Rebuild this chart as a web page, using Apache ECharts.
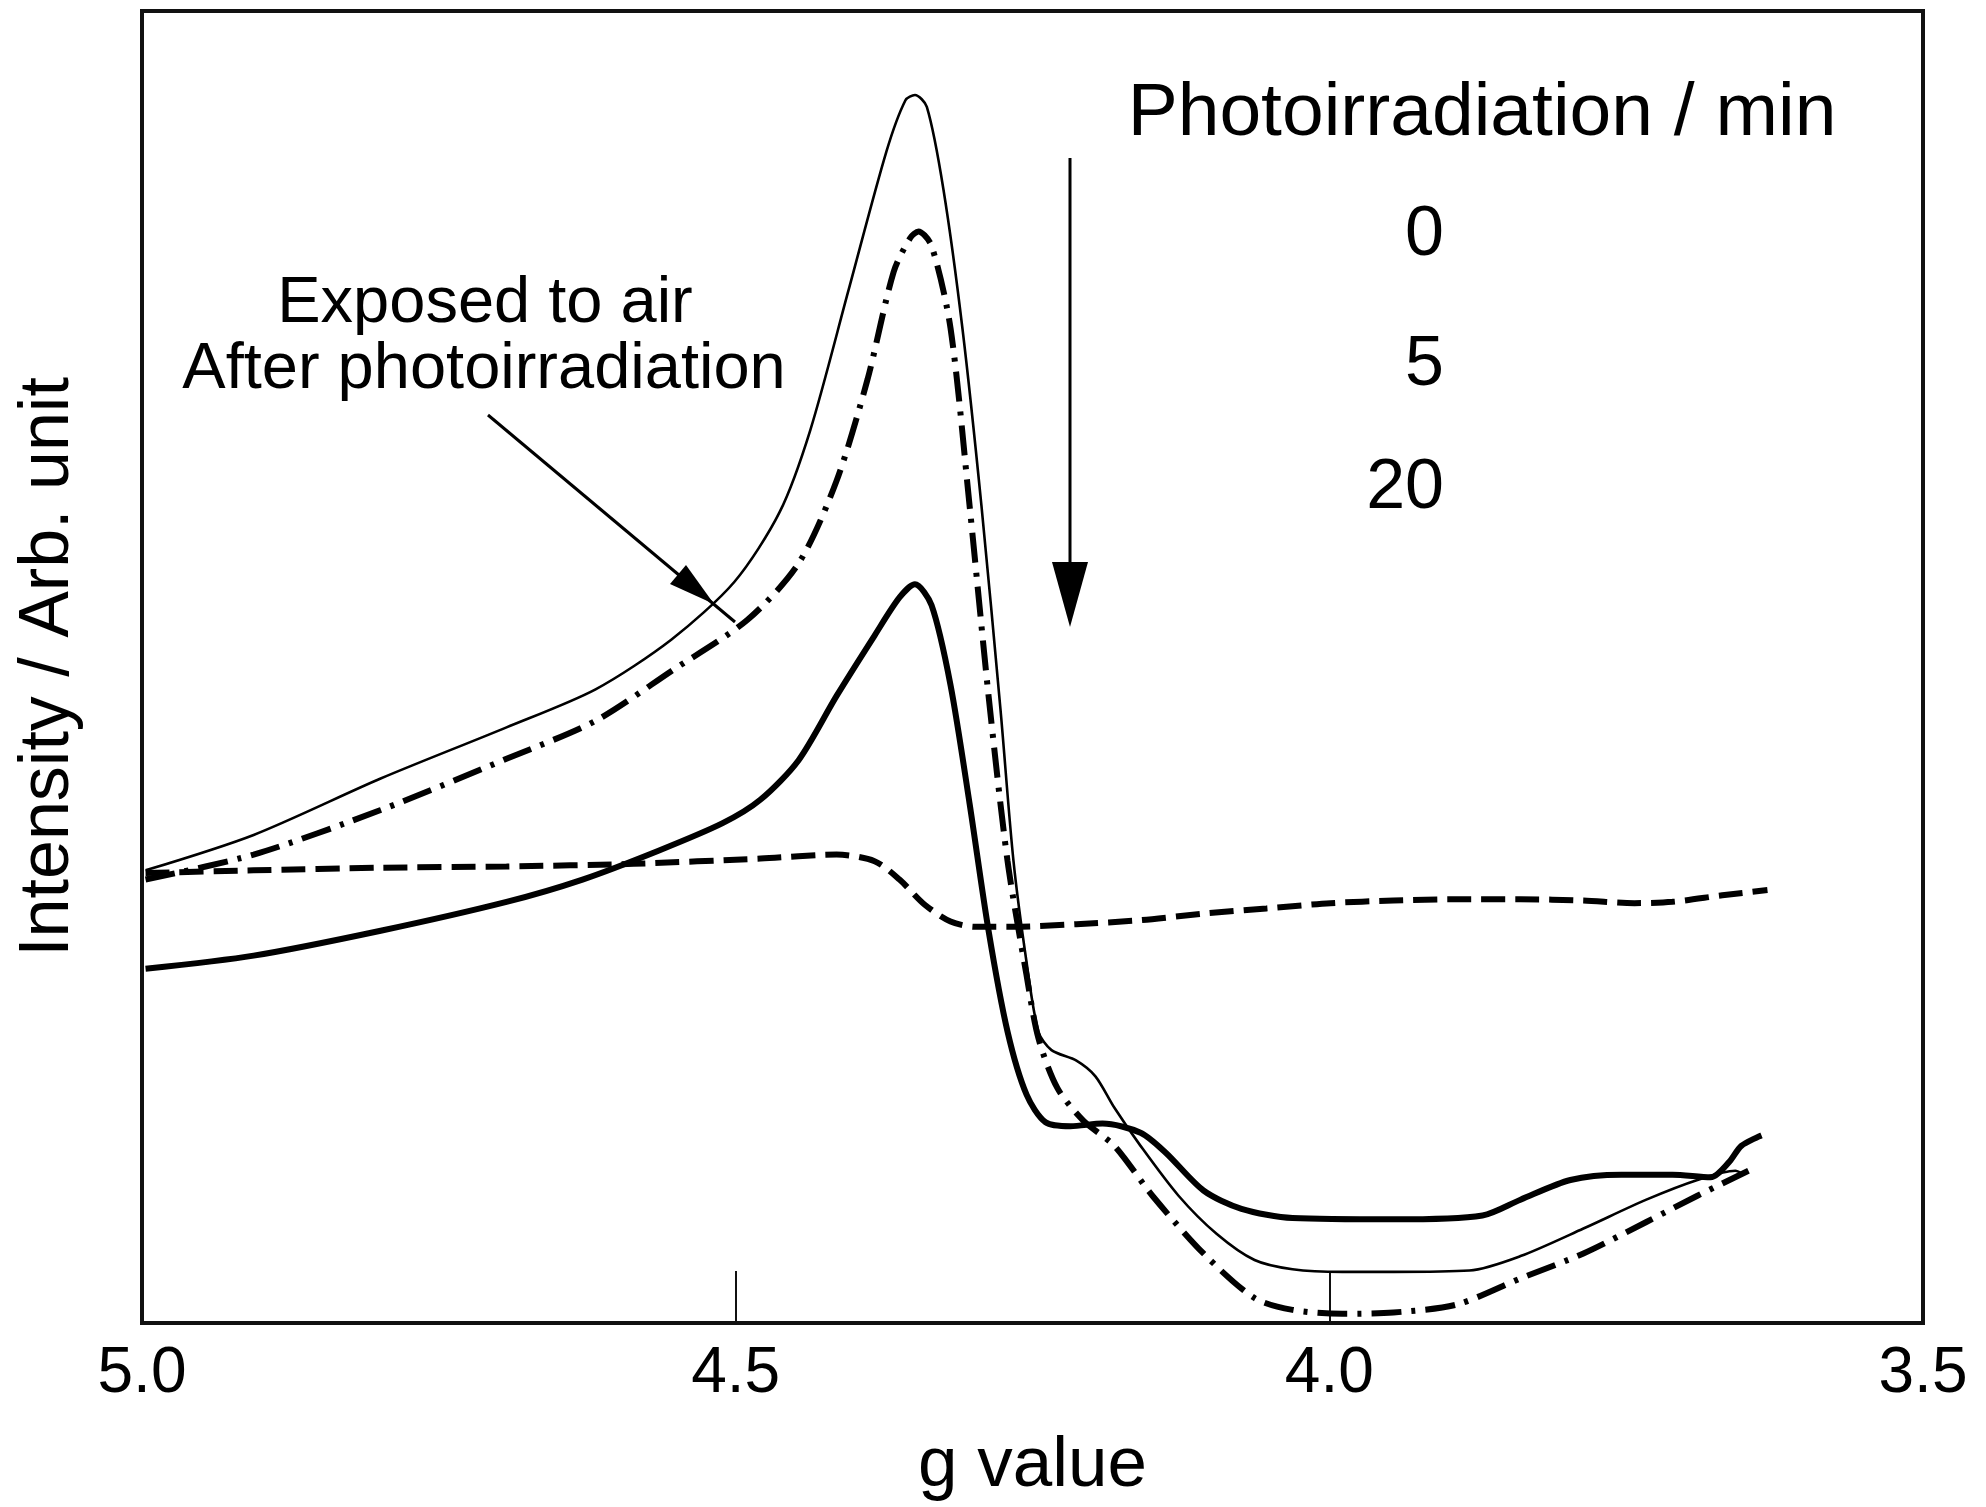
<!DOCTYPE html>
<html>
<head>
<meta charset="utf-8">
<script src="https://cdn.jsdelivr.net/npm/echarts@6/dist/echarts.min.js"></script>
<style>
html,body{margin:0;padding:0;background:#fff;}
#chart{width:1986px;height:1507px;}
</style>
</head>
<body>
<div id="chart"></div>
<script>
// g values (x) and intensities (arbitrary units, y)
const g0   = [4.997,4.906,4.799,4.693,4.618,4.554,4.501,4.463,4.437,4.405,4.373,4.357,4.349,4.339,4.325,4.309,4.293,4.277,4.266,4.255,4.245,4.234,4.213,4.197,4.181,4.159,4.127,4.095,4.063,4.031,3.989,3.946,3.882,3.839,3.786,3.733,3.690,3.658,3.653];
const y0   = [34.5,37.2,41.5,45.4,48.3,52.1,56.5,61.8,68.1,78.7,89.3,93.2,93.6,92.7,86.4,75.8,62.3,46.8,35.2,27.5,22.2,20.8,20.0,18.8,16.4,13.5,9.7,6.8,4.8,4.1,3.9,3.9,4.0,5.1,7.2,9.4,10.9,11.6,11.4];

const g5   = [4.997,4.906,4.799,4.693,4.618,4.554,4.490,4.447,4.415,4.389,4.367,4.353,4.346,4.335,4.319,4.303,4.287,4.271,4.255,4.245,4.229,4.207,4.181,4.149,4.106,4.063,4.031,3.989,3.946,3.893,3.839,3.786,3.733,3.690,3.647];
const y5   = [33.8,35.7,39.1,43.0,45.9,49.7,53.6,57.9,64.2,71.9,80.1,82.7,83.2,82.1,75.8,62.3,47.8,35.2,26.5,21.7,17.9,15.4,13.5,9.7,5.3,1.9,1.0,0.7,0.8,1.4,3.4,5.3,7.7,9.7,11.6];

const g20  = [4.997,4.906,4.799,4.693,4.629,4.565,4.511,4.479,4.447,4.415,4.383,4.362,4.349,4.335,4.319,4.303,4.287,4.271,4.255,4.239,4.218,4.191,4.159,4.138,4.106,4.074,4.031,3.946,3.871,3.839,3.797,3.754,3.711,3.679,3.663,3.653,3.636];
const y20  = [27.0,28.0,29.9,32.1,33.8,36.0,38.1,39.9,42.9,47.8,52.4,55.3,56.3,54.7,48.6,39.6,29.9,22.2,17.4,15.3,15.0,15.2,14.5,13.0,10.1,8.7,8.0,7.9,8.2,9.4,10.9,11.3,11.3,11.1,12.3,13.5,14.3];

const gAir = [4.997,4.906,4.799,4.693,4.586,4.479,4.415,4.383,4.362,4.341,4.319,4.298,4.266,4.213,4.159,4.106,4.053,3.999,3.946,3.893,3.839,3.786,3.743,3.711,3.669,3.631];
const yAir = [34.3,34.5,34.7,34.8,35.0,35.4,35.7,35.2,33.8,31.9,30.6,30.2,30.2,30.4,30.7,31.2,31.6,32.0,32.2,32.3,32.3,32.2,32.0,32.1,32.6,33.0];

const xTicks = [5.0, 4.5, 4.0, 3.5];
const legendTitle = 'Photoirradiation / min';
const legendItems = ['0', '5', '20'];
const airNote = ['Exposed to air', 'After photoirradiation'];

const zip = (xs, ys) => xs.map((x, i) => [x, ys[i]]);
const FONT = '"Liberation Sans", Arial, sans-serif';

const chart = echarts.init(document.getElementById('chart'), null, {renderer: 'canvas'});

const lineBase = {type: 'line', smooth: 0.28, symbol: 'none'};

const option = {
  backgroundColor: '#fff',
  animation: false,
  grid: {left: 142, right: 63, top: 11, bottom: 183, show: true, borderColor: '#111', borderWidth: 4, backgroundColor: 'transparent'},
  xAxis: {
    type: 'value', min: 3.5, max: 5.0, interval: 0.5, inverse: true,
    name: 'g value', nameLocation: 'middle', nameGap: 108,
    nameTextStyle: {fontFamily: FONT, fontSize: 71, color: '#000'},
    axisLine: {show: false},
    axisTick: {show: true, inside: true, length: 52, lineStyle: {color: '#111', width: 2}},
    axisLabel: {fontFamily: FONT, fontSize: 64, color: '#000', margin: 19,
      formatter: v => xTicks.includes(+v.toFixed(1)) ? v.toFixed(1) : ''},
    splitLine: {show: false}
  },
  yAxis: {
    type: 'value', min: 0, max: 100,
    name: 'Intensity / Arb. unit', nameLocation: 'middle', nameGap: 58, nameRotate: 90,
    nameTextStyle: {fontFamily: FONT, fontSize: 70, color: '#000'},
    axisLine: {show: false}, axisTick: {show: false}, axisLabel: {show: false}, splitLine: {show: false}
  },
  series: [
    Object.assign({name: '0', data: zip(g0, y0), lineStyle: {color: '#000', width: 2.6}}, lineBase),
    Object.assign({name: '5', data: zip(g5, y5), lineStyle: {color: '#000', width: 6, type: [30, 10, 4, 10]}}, lineBase),
    Object.assign({name: '20', data: zip(g20, y20), lineStyle: {color: '#000', width: 6}}, lineBase),
    Object.assign({name: 'air', data: zip(gAir, yAir), lineStyle: {color: '#000', width: 6, type: [24, 10]}}, lineBase)
  ],
  graphic: [
    {type: 'text', x: 1482, y: 114, style: {text: legendTitle, font: '75px ' + FONT, fill: '#000', textAlign: 'center', textVerticalAlign: 'middle'}},
    {type: 'text', x: 1444, y: 236, style: {text: legendItems[0], font: '70px ' + FONT, fill: '#000', textAlign: 'right', textVerticalAlign: 'middle'}},
    {type: 'text', x: 1444, y: 366, style: {text: legendItems[1], font: '70px ' + FONT, fill: '#000', textAlign: 'right', textVerticalAlign: 'middle'}},
    {type: 'text', x: 1444, y: 489, style: {text: legendItems[2], font: '70px ' + FONT, fill: '#000', textAlign: 'right', textVerticalAlign: 'middle'}},
    {type: 'text', x: 485, y: 304, style: {text: airNote[0], font: '65px ' + FONT, fill: '#000', textAlign: 'center', textVerticalAlign: 'middle'}},
    {type: 'text', x: 484, y: 370, style: {text: airNote[1], font: '65px ' + FONT, fill: '#000', textAlign: 'center', textVerticalAlign: 'middle'}},
    // vertical arrow
    {type: 'line', shape: {x1: 1070, y1: 158, x2: 1070, y2: 575}, style: {stroke: '#000', lineWidth: 3}},
    {type: 'polygon', shape: {points: [[1070, 627], [1052, 562], [1088, 562]]}, style: {fill: '#000'}},
    // annotation arrow
    {type: 'line', shape: {x1: 488, y1: 415, x2: 735, y2: 622}, style: {stroke: '#000', lineWidth: 3}},
    {type: 'polygon', shape: {points: [[714, 604], [670, 584], [686, 565]]}, style: {fill: '#000'}}
  ]
};
chart.setOption(option);
</script>
</body>
</html>
